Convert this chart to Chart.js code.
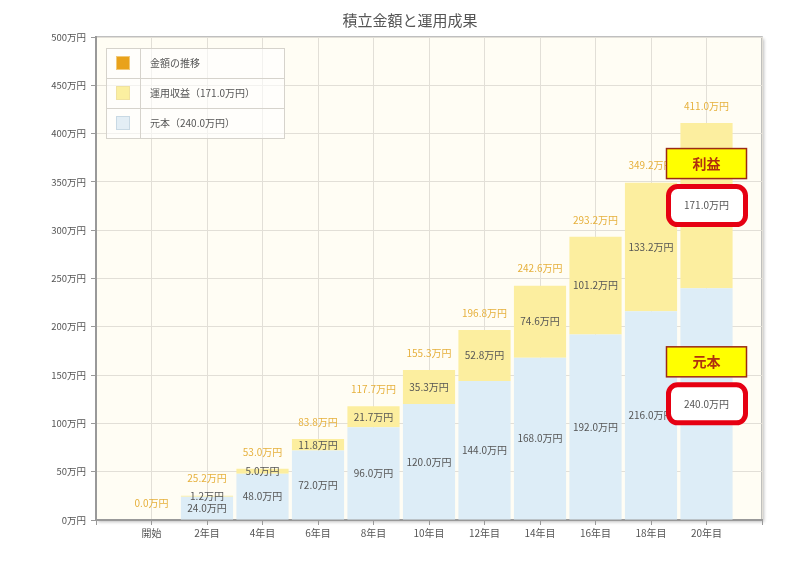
<!DOCTYPE html>
<html lang="ja">
<head>
  <meta charset="UTF-8">
  <title>積立金額と運用成果</title>
  <style>
    body { margin: 0; background: #fff; }
    #wrap { width: 796px; height: 566px; }
  </style>
</head>
<body>
  <div id="wrap"><canvas id="chart" width="796" height="566"></canvas></div>

  <script src="https://cdn.jsdelivr.net/npm/chart.js"></script>
  <script>
    // データ（万円）
    const years     = ['開始', '2年目', '4年目', '6年目', '8年目', '10年目', '12年目', '14年目', '16年目', '18年目', '20年目'];
    const principal = [0, 24.0, 48.0, 72.0, 96.0, 120.0, 144.0, 168.0, 192.0, 216.0, 240.0];
    const profit    = [0, 1.2, 5.0, 11.8, 21.7, 35.3, 52.8, 74.6, 101.2, 133.2, 171.0];
    const total     = [0, 25.2, 53.0, 83.8, 117.7, 155.3, 196.8, 242.6, 293.2, 349.2, 411.0];
    const yTicks    = [0, 50, 100, 150, 200, 250, 300, 350, 400, 450, 500];

    const FONT = '"Noto Sans CJK JP", "Noto Sans", sans-serif';
    const fmt = v => v.toFixed(1) + '万円';
    const pad = arr => [null, ...arr, null];   // 両端に空の枠を置く

    const legendItems = [
      { text: '金額の推移', fill: '#e9a21a', stroke: '#f2c978' },
      { text: '運用収益（171.0万円）', fill: '#fbefa0', stroke: '#f0e2a0' },
      { text: '元本（240.0万円）', fill: '#e3eef5', stroke: '#c8d9e4' }
    ];

    function roundRect(ctx, x, y, w, h, r) {
      ctx.beginPath();
      ctx.moveTo(x + r, y);
      ctx.arcTo(x + w, y, x + w, y + h, r);
      ctx.arcTo(x + w, y + h, x, y + h, r);
      ctx.arcTo(x, y + h, x, y, r);
      ctx.arcTo(x, y, x + w, y, r);
      ctx.closePath();
    }

    const decor = {
      id: 'decor',
      beforeDraw(chart) {
        const { ctx, chartArea: a } = chart;
        ctx.save();
        ctx.shadowColor = 'rgba(0,0,0,0.25)';
        ctx.shadowOffsetX = 2; ctx.shadowOffsetY = 2; ctx.shadowBlur = 3;
        ctx.fillStyle = '#fffdf4';
        ctx.fillRect(a.left, a.top, a.right - a.left, a.bottom - a.top);
        ctx.restore();
        ctx.save();
        ctx.strokeStyle = '#aaa'; ctx.lineWidth = 1.5;
        ctx.strokeRect(a.left, a.top, a.right - a.left, a.bottom - a.top);
        ctx.restore();
        // タイトル
        ctx.save();
        ctx.font = '15px ' + FONT;
        ctx.fillStyle = '#555';
        ctx.textAlign = 'center'; ctx.textBaseline = 'middle';
        ctx.fillText('積立金額と運用成果', 410, 20);
        ctx.restore();
      },
      afterDatasetsDraw(chart) {
        const { ctx } = chart;
        const mP = chart.getDatasetMeta(0), mR = chart.getDatasetMeta(1), mT = chart.getDatasetMeta(2);
        const label = (txt, x, y, color) => {
          ctx.fillStyle = color; ctx.fillText(txt, x, y);
        };
        ctx.save();
        ctx.font = '10px ' + FONT;
        ctx.textAlign = 'center'; ctx.textBaseline = 'middle';
        years.forEach((_, i) => {
          const k = i + 1;
          const bp = mP.data[k], br = mR.data[k], pt = mT.data[k];
          if (principal[i] > 0) label(fmt(principal[i]), bp.x, (bp.y + bp.base) / 2, '#555');
          if (profit[i] > 0) label(fmt(profit[i]), br.x, (br.y + br.base) / 2, '#555');
          label(fmt(total[i]), pt.x, pt.y - 17, '#e6b03c');
        });
        ctx.restore();

        // 注釈（最終年）
        const last = years.length;
        const bp = mP.data[last], br = mR.data[last];
        const notes = [
          { title: '利益', txt: fmt(profit[last - 1]), x: br.x, y: (br.y + br.base) / 2 },
          { title: '元本', txt: fmt(principal[last - 1]), x: bp.x, y: (bp.y + bp.base) / 2 }
        ];
        notes.forEach(n => {
          ctx.save();
          roundRect(ctx, n.x - 38, n.y - 19, 77, 38, 9);
          ctx.fillStyle = '#fff'; ctx.fill();
          ctx.lineWidth = 5; ctx.strokeStyle = '#e60012'; ctx.stroke();
          ctx.font = '10px ' + FONT;
          ctx.textAlign = 'center'; ctx.textBaseline = 'middle';
          ctx.fillStyle = '#555';
          ctx.fillText(n.txt, n.x, n.y);
          // 見出し
          ctx.fillStyle = '#ffff00';
          ctx.fillRect(n.x - 40, n.y - 57, 80, 30);
          ctx.lineWidth = 1.5; ctx.strokeStyle = '#9c2a14';
          ctx.strokeRect(n.x - 40, n.y - 57, 80, 30);
          ctx.font = 'bold 14px ' + FONT;
          ctx.fillStyle = '#b0300e';
          ctx.fillText(n.title, n.x, n.y - 42);
          ctx.restore();
        });
      },
      afterDraw(chart) {
        const { ctx } = chart;
        const x0 = 106, y0 = 48, w = 178, rowH = 30;
        ctx.save();
        ctx.fillStyle = 'rgba(255,255,255,0.6)';
        ctx.fillRect(x0, y0, w, rowH * 3);
        ctx.strokeStyle = '#d6d3cc'; ctx.lineWidth = 1;
        ctx.strokeRect(x0 + 0.5, y0 + 0.5, w, rowH * 3);
        ctx.beginPath();
        ctx.moveTo(x0 + 34.5, y0); ctx.lineTo(x0 + 34.5, y0 + rowH * 3);
        for (let r = 1; r < 3; r++) { ctx.moveTo(x0, y0 + rowH * r + 0.5); ctx.lineTo(x0 + w, y0 + rowH * r + 0.5); }
        ctx.stroke();
        ctx.font = '10px ' + FONT;
        ctx.textBaseline = 'middle';
        legendItems.forEach((it, r) => {
          const cy = y0 + rowH * r + rowH / 2;
          ctx.fillStyle = it.fill; ctx.fillRect(x0 + 10, cy - 7, 14, 14);
          ctx.strokeStyle = it.stroke; ctx.strokeRect(x0 + 10.5, cy - 6.5, 13, 13);
          ctx.fillStyle = '#555'; ctx.fillText(it.text, x0 + 44, cy);
        });
        ctx.restore();
      }
    };

    new Chart(document.getElementById('chart'), {
      data: {
        labels: ['', ...years, ''],
        datasets: [
          { type: 'bar', label: '元本', data: pad(principal), backgroundColor: '#ddedf7', borderWidth: 0, stack: 'a', barPercentage: 0.94, categoryPercentage: 1 },
          { type: 'bar', label: '運用収益', data: pad(profit), backgroundColor: '#fcee9f', borderWidth: 0, stack: 'a', barPercentage: 0.94, categoryPercentage: 1 },
          { type: 'line', label: '金額の推移', data: pad(total), stack: 'b', showLine: false, pointRadius: 0, borderColor: '#e9a21a' }
        ]
      },
      options: {
        responsive: false,
        animation: false,
        layout: { padding: { top: 37, right: 34, left: 0, bottom: 0 } },
        plugins: { legend: { display: false }, tooltip: { enabled: false }, title: { display: false } },
        scales: {
          x: {
            stacked: true,
            offset: false,
            afterFit: s => { s.height = 46; },
            grid: { offset: false, color: '#e2dfd7', tickColor: '#999', tickLength: 5 },
            border: { color: '#999', width: 2 },
            ticks: { autoSkip: false, maxRotation: 0, color: '#555', font: { family: FONT, size: 10 }, padding: 2 }
          },
          y: {
            stacked: true,
            min: 0, max: 500,
            afterFit: s => { s.width = 96; },
            afterBuildTicks: s => { s.ticks = yTicks.map(v => ({ value: v })); },
            grid: { color: '#e2dfd7', tickColor: '#999', tickLength: 5 },
            border: { color: '#999', width: 2 },
            ticks: { color: '#555', font: { family: FONT, size: 9.5 }, padding: 5, callback: v => v + '万円' }
          }
        }
      },
      plugins: [decor]
    });
  </script>
</body>
</html>
